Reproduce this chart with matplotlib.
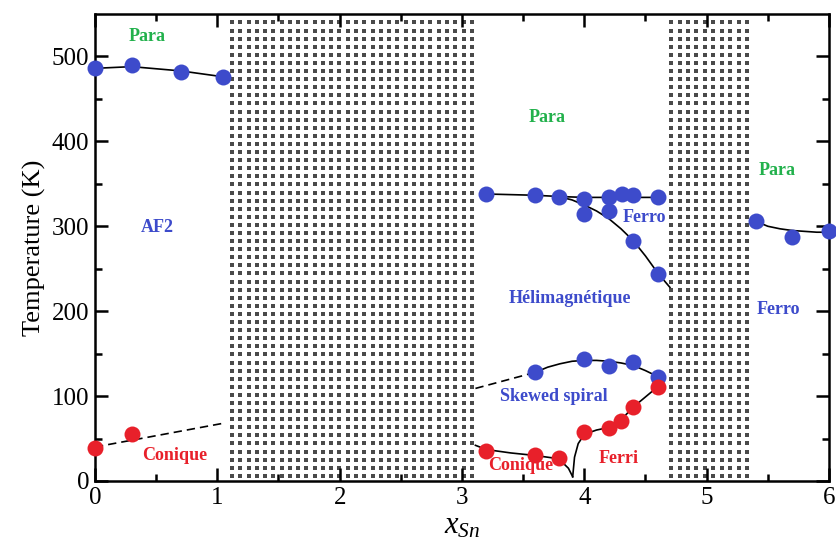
import numpy as np
import matplotlib
matplotlib.use("Agg")
import matplotlib.pyplot as plt

plt.rcParams['font.family'] = ['Liberation Serif', 'DejaVu Serif']
plt.rcParams['mathtext.fontset'] = 'custom'
plt.rcParams['mathtext.rm'] = 'Liberation Serif'
plt.rcParams['mathtext.it'] = 'Liberation Serif:italic'

BLUE = '#3d4bcb'
RED = '#e8202a'
GREEN = '#22b14c'

# measured points (x_Sn, T in K)
af2_x = [0.0, 0.3, 0.7, 1.05]
af2_t = [486, 490, 482, 476]
con_left_x = [0.0, 0.3]
con_left_t = [39, 55]

tc_x = [3.2, 3.6, 3.79, 4.0, 4.2, 4.31, 4.4, 4.6]
tc_t = [338, 337, 335, 332, 335, 338, 337, 334]
ferro_low_x = [4.0, 4.2, 4.4, 4.6]
ferro_low_t = [315, 318, 283, 244]
skew_x = [3.6, 4.0, 4.2, 4.4, 4.6]
skew_t = [128, 144, 136, 140, 123]
con_mid_x = [3.2, 3.6, 3.79]
con_mid_t = [35, 31, 27]
ferri_x = [4.0, 4.2, 4.3, 4.4, 4.6]
ferri_t = [58, 62, 71, 87, 111]
right_x = [5.4, 5.7, 6.0]
right_t = [306, 287, 295]

# guide lines
g_af2_x = [0.0, 0.3, 0.7, 1.05]
g_af2_t = [486, 488, 483, 476]
g_conl_x = [0.0, 1.05]
g_conl_t = [40, 68]
g_tc_x = [3.2, 3.6, 3.8, 4.0, 4.2, 4.4, 4.6]
g_tc_t = [338, 336.5, 335, 334, 334, 334, 334]
g_fl_x = [3.79, 3.9, 4.0, 4.1, 4.2, 4.3, 4.4, 4.5, 4.6, 4.7]
g_fl_t = [335, 331, 325, 318, 309, 297, 283, 265, 245, 228]
g_skd_x = [3.11, 3.6]
g_skd_t = [109, 128]
g_sk_x = [3.6, 3.7, 3.8, 3.9, 4.0, 4.1, 4.2, 4.3, 4.4, 4.5, 4.6]
g_sk_t = [128, 134, 138, 141, 142, 142, 141, 139, 136, 130, 123]
g_cm_x = [3.11, 3.2, 3.4, 3.6, 3.75, 3.82, 3.87, 3.905]
g_cm_t = [42, 37, 33, 30, 27, 22, 15, 5]
g_fe_x = [3.905, 3.92, 3.95, 4.0, 4.1, 4.2, 4.3, 4.4, 4.5, 4.6]
g_fe_t = [5, 28, 44, 55, 60, 63, 72, 87, 99, 111]
g_r_x = [5.4, 5.5, 5.6, 5.7, 5.8, 5.9, 6.0]
g_r_t = [306, 300, 297, 295, 294, 293, 293]

# dotted composition ranges: (start, end, number of dot columns)
forbidden = [(1.12, 3.08, 30), (4.71, 5.33, 10)]

labels = [
    (0.43, 524, 'Para', GREEN), (0.51, 298, 'AF2', BLUE), (0.65, 30, 'Conique', RED),
    (3.70, 428, 'Para', GREEN), (4.49, 310, 'Ferro', BLUE),
    (3.88, 215, 'Hélimagnétique', BLUE), (3.75, 99, 'Skewed spiral', BLUE),
    (3.48, 18, 'Conique', RED), (4.28, 27, 'Ferri', RED),
    (5.58, 366, 'Para', GREEN), (5.59, 202, 'Ferro', BLUE),
]

fig = plt.figure(figsize=(8.37, 5.47), dpi=100)
ax = fig.add_axes([0.1135, 0.1207, 0.8769, 0.8537])

for x0, x1, n in forbidden:
    gx, gy = np.meshgrid(np.linspace(x0, x1, n), np.linspace(6, 540, 57))
    ax.plot(gx.ravel(), gy.ravel(), 's', color='#4a4a4a', ms=2.2, mew=0, zorder=1)

lk = dict(color='black', lw=1.2, zorder=2)
ax.plot(g_af2_x, g_af2_t, **lk)
ax.plot(g_conl_x, g_conl_t, ls=(0, (5, 3)), **lk)
ax.plot(g_tc_x, g_tc_t, **lk)
ax.plot(g_fl_x, g_fl_t, **lk)
ax.plot(g_skd_x, g_skd_t, ls=(0, (5, 3)), **lk)
ax.plot(g_sk_x, g_sk_t, **lk)
ax.plot(g_cm_x, g_cm_t, **lk)
ax.plot(g_fe_x, g_fe_t, **lk)
ax.plot(g_r_x, g_r_t, **lk)

mk = dict(ls='none', marker='o', ms=11.5, mew=0, zorder=3, clip_on=False)
for xs, ts in [(af2_x, af2_t), (tc_x, tc_t), (ferro_low_x, ferro_low_t),
               (skew_x, skew_t), (right_x, right_t)]:
    ax.plot(xs, ts, color=BLUE, **mk)
for xs, ts in [(con_left_x, con_left_t), (con_mid_x, con_mid_t), (ferri_x, ferri_t)]:
    ax.plot(xs, ts, color=RED, **mk)

for x, t, s, c in labels:
    ax.text(x, t, s, color=c, fontsize=13, fontweight='bold', ha='center', va='center', zorder=4)

ax.set_xlim(0, 6)
ax.set_ylim(0, 550)
ax.set_xticks(range(0, 7))
ax.set_xticks(np.arange(0.5, 6, 1), minor=True)
ax.set_yticks(range(0, 501, 100))
ax.set_yticks(range(50, 550, 100), minor=True)
ax.tick_params(which='both', direction='in', top=True, right=True, width=1.8,
               labelsize=18, pad=4)
ax.tick_params(which='major', length=9.5)
ax.tick_params(which='minor', length=5)
for sp in ax.spines.values():
    sp.set_linewidth(1.8)

ax.set_ylabel('Temperature (K)', fontsize=19, labelpad=4)
ax.set_xlabel(r'$x_{Sn}$', fontsize=22, labelpad=2)

fig.savefig('out.png', dpi=100)
